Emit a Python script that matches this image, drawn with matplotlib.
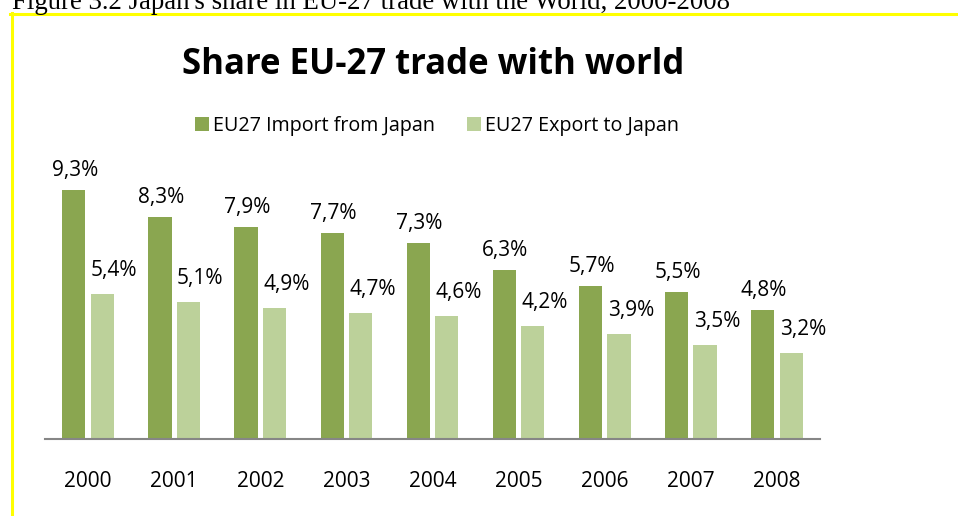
import matplotlib.pyplot as plt
from matplotlib.lines import Line2D
import numpy as np

years = ['2000', '2001', '2002', '2003', '2004', '2005', '2006', '2007', '2008']
import_share = [9.3, 8.3, 7.9, 7.7, 7.3, 6.3, 5.7, 5.5, 4.8]
export_share = [5.4, 5.1, 4.9, 4.7, 4.6, 4.2, 3.9, 3.5, 3.2]
series_names = ['EU27 Import from Japan', 'EU27 Export to Japan']

plt.rcParams['font.family'] = ['Open Sans', 'DejaVu Sans']

W, H = 958, 516
fig = plt.figure(figsize=(W / 100, H / 100), dpi=100)

# caption above the frame (cut off at the top in the original)
fig.text(12 / W, 1 - 9 / H, "Figure 3.2 Japan's share in EU-27 trade with the World, 2000-2008",
         family='Liberation Serif', fontsize=19.3, va='baseline', ha='left')

# yellow frame
fig.add_artist(Line2D([10 / W, 1], [1 - 13.5 / H] * 2, color='#ffff00', lw=2.2))
fig.add_artist(Line2D([11.5 / W] * 2, [0, 1 - 12.5 / H], color='#ffff00', lw=2.2))

ax = fig.add_axes([45 / W, (H - 439) / H, 775 / W, 268 / H])

x = np.arange(len(years))
w = 0.27
b1 = ax.bar(x - 0.165, import_share, w, color='#8aa650', label=series_names[0])
b2 = ax.bar(x + 0.165, export_share, w, color='#bcd19a', label=series_names[1])

# value labels with decimal comma
for rect, v in zip(b1, import_share):
    ax.annotate(f'{v:.1f}%'.replace('.', ','), (rect.get_x() + rect.get_width() / 2, v),
                xytext=(1, 9), textcoords='offset pixels', ha='center', va='bottom', fontsize=15)
for rect, v in zip(b2, export_share):
    ax.annotate(f'{v:.1f}%'.replace('.', ','), (rect.get_x() + rect.get_width() / 2, v),
                xytext=(12, 13), textcoords='offset pixels', ha='center', va='bottom', fontsize=15)

ax.set_xlim(-0.5, len(years) - 0.5)
ax.set_ylim(0, 10)
ax.set_xticks(x)
ax.set_xticklabels(years, fontsize=15)
ax.tick_params(axis='x', length=0, pad=23)
ax.set_yticks([])
for s in ['top', 'right', 'left']:
    ax.spines[s].set_visible(False)
ax.spines['bottom'].set_color('#868686')
ax.spines['bottom'].set_linewidth(1.5)

fig.text(433 / W, 1 - 65 / H, 'Share EU-27 trade with world', fontsize=25, fontweight='bold',
         ha='center', va='center')

fig.legend(handles=[b1, b2], labels=series_names, loc='center', bbox_to_anchor=(437 / W, 1 - 126 / H),
           ncol=2, frameon=False, fontsize=14.2, handlelength=0.7, handleheight=0.7,
           handletextpad=0.2, columnspacing=1.6)

fig.savefig('out.png', dpi=100)
